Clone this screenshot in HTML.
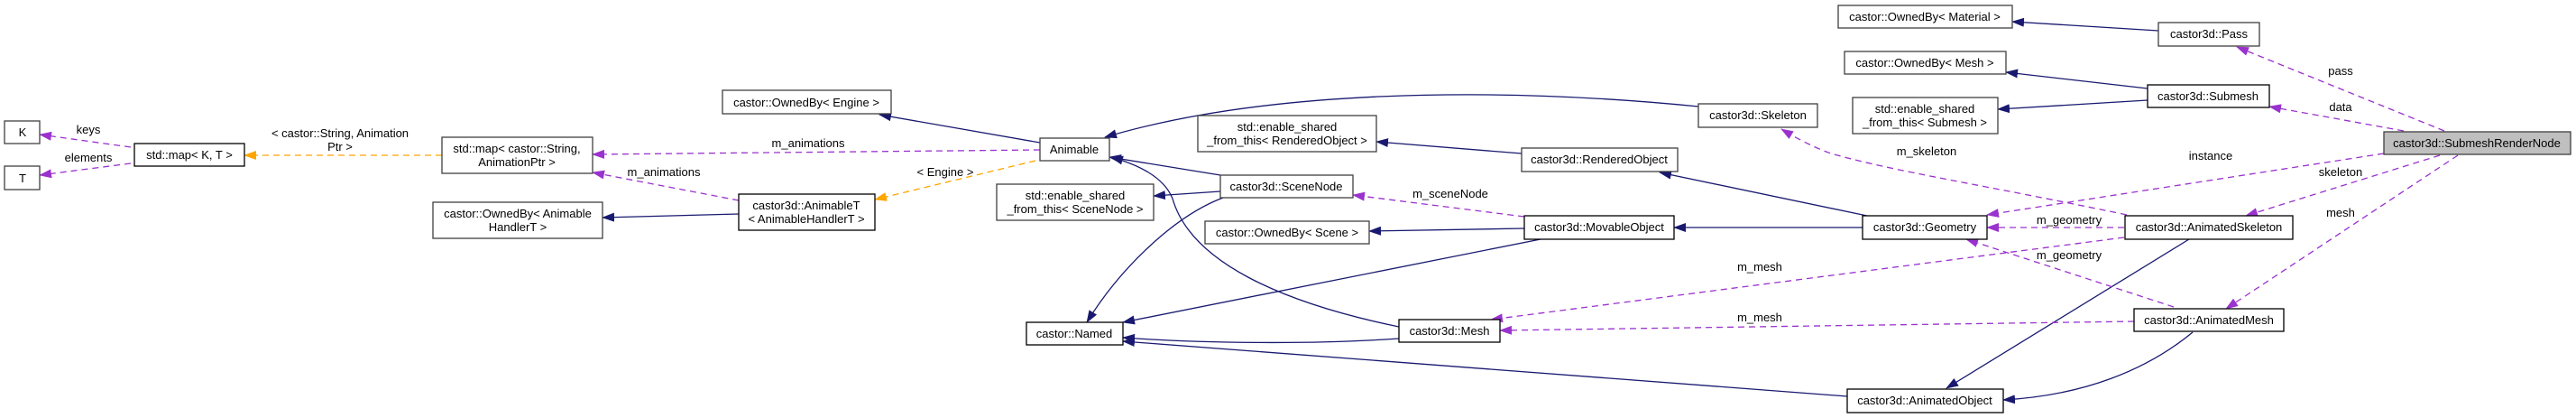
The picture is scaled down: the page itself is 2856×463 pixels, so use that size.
<!DOCTYPE html>
<html><head><meta charset="utf-8"><style>
html,body{margin:0;padding:0;background:#fff;}
svg{display:block;}
text{font-family:"Liberation Sans",Arial,sans-serif;font-size:13px;fill:#000;}
</style></head><body>
<svg width="2856" height="463" viewBox="0 0 2856 463" xmlns="http://www.w3.org/2000/svg">
<defs>
<marker id="an" markerUnits="userSpaceOnUse" markerWidth="14" markerHeight="10" refX="13" refY="5" orient="auto"><polygon points="0,0 14,5 0,10" fill="#191970"/></marker>
<marker id="ap" markerUnits="userSpaceOnUse" markerWidth="14" markerHeight="10" refX="13" refY="5" orient="auto"><polygon points="0,0 14,5 0,10" fill="#9a32cd"/></marker>
<marker id="ao" markerUnits="userSpaceOnUse" markerWidth="14" markerHeight="10" refX="13" refY="5" orient="auto"><polygon points="0,0 14,5 0,10" fill="#ffa500"/></marker>
</defs>
<g fill="none" stroke-width="1.3">
<!-- navy inheritance -->
<g stroke="#191970" marker-end="url(#an)">
<path d="M1153,158 L975,127"/>
<path d="M819,237 L668,241"/>
<path d="M1883,118 C1650,95 1400,100 1225,152"/>
<path d="M1353,194 L1230,174"/>
<path d="M1551,362 C1420,335 1320,290 1300,220 C1290,195 1260,182 1232,174"/>
<path d="M1353,212 L1279,217"/>
<path d="M1356,219 C1300,240 1240,300 1205,357"/>
<path d="M1708,265 L1245,357"/>
<path d="M1551,375 C1450,382 1330,380 1245,374"/>
<path d="M2048,439 L1245,378"/>
<path d="M1687,170 L1526,157"/>
<path d="M1690,253 L1518,256"/>
<path d="M2070,239 L1840,191"/>
<path d="M2065,252 L1856,252"/>
<path d="M2427,265 L2158,430"/>
<path d="M2431,368 C2380,410 2310,438 2221,443"/>
<path d="M2393,34 L2231,24"/>
<path d="M2381,98 L2224,80"/>
<path d="M2381,111 L2215,121"/>
</g>
<!-- purple usage -->
<g stroke="#9a32cd" stroke-dasharray="7,5" marker-end="url(#ap)">
<path d="M145,163 L44,149"/>
<path d="M145,181 L44,194"/>
<path d="M1153,166 L657,171"/>
<path d="M819,222 L657,191"/>
<path d="M1690,240 L1500,216"/>
<path d="M2358,238 C2200,205 2100,190 2030,170 C2010,163 1990,152 1975,143"/>
<path d="M2355,252 L2203,252"/>
<path d="M2643,170 L2203,238"/>
<path d="M2410,340 L2180,265"/>
<path d="M2355,263 L1653,354"/>
<path d="M2366,356 L1663,366"/>
<path d="M2710,145 L2480,52"/>
<path d="M2665,145 L2516,118"/>
<path d="M2705,172 L2490,239"/>
<path d="M2725,172 L2468,342"/>
</g>
<!-- orange template -->
<g stroke="#ffa500" stroke-dasharray="7,5" marker-end="url(#ao)">
<path d="M490,172 L271,172"/>
<path d="M1148,178 L970,221"/>
</g>
</g>
<!-- nodes -->
<g stroke="#404040" stroke-width="1.3" fill="#fff">
<rect x="5" y="134" width="39" height="25"/>
<rect x="5" y="184" width="39" height="26"/>
<rect x="149" y="159" width="122" height="25" stroke="#000"/>
<rect x="490" y="152" width="167" height="40"/>
<rect x="801" y="100" width="187" height="26"/>
<rect x="480" y="224" width="188" height="40"/>
<rect x="819" y="215" width="151" height="40" stroke="#000"/>
<rect x="1153" y="153" width="77" height="25"/>
<rect x="1105" y="204" width="174" height="40"/>
<rect x="1353" y="194" width="147" height="25"/>
<rect x="1138" y="357" width="107" height="25" stroke="#000"/>
<rect x="1328" y="128" width="198" height="40"/>
<rect x="1336" y="245" width="182" height="25"/>
<rect x="1687" y="164" width="173" height="26"/>
<rect x="1690" y="239" width="166" height="26" stroke="#000"/>
<rect x="1551" y="354" width="112" height="25" stroke="#000"/>
<rect x="1883" y="115" width="132" height="26"/>
<rect x="2038" y="6" width="193" height="25"/>
<rect x="2045" y="57" width="179" height="25"/>
<rect x="2054" y="108" width="161" height="40"/>
<rect x="2065" y="239" width="138" height="26" stroke="#000"/>
<rect x="2048" y="431" width="173" height="26" stroke="#000"/>
<rect x="2393" y="25" width="112" height="26"/>
<rect x="2381" y="94" width="135" height="25" stroke="#000"/>
<rect x="2643" y="146" width="207" height="25" fill="#bfbfbf"/>
<rect x="2356" y="239" width="186" height="26" stroke="#000"/>
<rect x="2366" y="342" width="166" height="25" stroke="#000"/>
</g>
<g text-anchor="middle">
<text x="25" y="151">K</text>
<text x="25" y="202">T</text>
<text x="210" y="176">std::map&lt; K, T &gt;</text>
<text x="573" y="169">std::map&lt; castor::String,</text>
<text x="573" y="184">AnimationPtr &gt;</text>
<text x="894" y="118">castor::OwnedBy&lt; Engine &gt;</text>
<text x="574" y="241">castor::OwnedBy&lt; Animable</text>
<text x="574" y="256">HandlerT &gt;</text>
<text x="894" y="232">castor3d::AnimableT</text>
<text x="894" y="247">&lt; AnimableHandlerT &gt;</text>
<text x="1191" y="170">Animable</text>
<text x="1192" y="221">std::enable_shared</text>
<text x="1192" y="236">_from_this&lt; SceneNode &gt;</text>
<text x="1426" y="211">castor3d::SceneNode</text>
<text x="1191" y="374">castor::Named</text>
<text x="1427" y="145">std::enable_shared</text>
<text x="1427" y="160">_from_this&lt; RenderedObject &gt;</text>
<text x="1427" y="262">castor::OwnedBy&lt; Scene &gt;</text>
<text x="1773" y="181">castor3d::RenderedObject</text>
<text x="1773" y="256">castor3d::MovableObject</text>
<text x="1607" y="371">castor3d::Mesh</text>
<text x="1949" y="132">castor3d::Skeleton</text>
<text x="2134" y="23">castor::OwnedBy&lt; Material &gt;</text>
<text x="2134" y="74">castor::OwnedBy&lt; Mesh &gt;</text>
<text x="2134" y="125">std::enable_shared</text>
<text x="2134" y="140">_from_this&lt; Submesh &gt;</text>
<text x="2134" y="256">castor3d::Geometry</text>
<text x="2134" y="448">castor3d::AnimatedObject</text>
<text x="2449" y="42">castor3d::Pass</text>
<text x="2448" y="111">castor3d::Submesh</text>
<text x="2746" y="163">castor3d::SubmeshRenderNode</text>
<text x="2449" y="256">castor3d::AnimatedSkeleton</text>
<text x="2449" y="359">castor3d::AnimatedMesh</text>
<!-- edge labels -->
<text x="98" y="148">keys</text>
<text x="98" y="179">elements</text>
<text x="377" y="152">&lt; castor::String, Animation</text>
<text x="377" y="167">Ptr &gt;</text>
<text x="896" y="163">m_animations</text>
<text x="736" y="195">m_animations</text>
<text x="1048" y="195">&lt; Engine &gt;</text>
<text x="1608" y="219">m_sceneNode</text>
<text x="2136" y="172">m_skeleton</text>
<text x="2294" y="248">m_geometry</text>
<text x="2294" y="287">m_geometry</text>
<text x="1951" y="300">m_mesh</text>
<text x="1951" y="356">m_mesh</text>
<text x="2451" y="177">instance</text>
<text x="2595" y="83">pass</text>
<text x="2595" y="123">data</text>
<text x="2595" y="195">skeleton</text>
<text x="2595" y="240">mesh</text>
</g>
</svg>
</body></html>
